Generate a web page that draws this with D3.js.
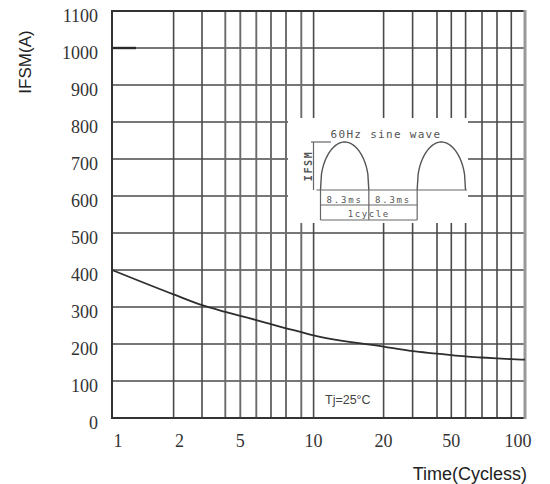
<!DOCTYPE html>
<html>
<head>
<meta charset="utf-8">
<script src="https://cdn.jsdelivr.net/npm/d3@7"></script>
<style>
  body { margin: 0; background: #fff; }
  svg { display: block; }
</style>
</head>
<body>
<div id="chart"></div>
<script>
// 1. Data

const cycles = [1, 2, 3, 4, 5, 6, 7, 8, 9, 10, 20, 30, 40, 50, 60, 70, 80, 90, 100]
const ifsm   = [400, 334, 305, 287, 276, 264.5, 253.5, 242.5, 232, 223.5, 193, 180.5, 174, 170, 166.5, 163.5, 161, 159, 157.5]
const xTickLabels = [1, 2, 5, 10, 20, 50, 100]
const yTickLabels = [0, 100, 200, 300, 400, 500, 600, 700, 800, 900, 1000, 1100]
const xGridValues = [1, 2, 3, 4, 5, 6, 7, 8, 9, 10, 20, 30, 40, 50, 60, 70, 80, 90, 100]

// 2. Dimensions

const dims = {
  width: 550,
  height: 484,
  left: 112,
  right: 525,
  top: 11,
  bottom: 418,
}
// the printed grid is only roughly logarithmic, so the scale follows the drawn lines
const xGridOffsets = [0, 61.6, 90, 113.3, 128.3, 144.3, 159, 174, 189.3, 201.6,
                      271.6, 300.6, 325, 339.3, 353.6, 370, 385, 399.3, 413]
// label nudges as printed on the sheet
const xLabelShift = { 1: 6, 2: 6, 100: -7 }

const svg = d3.select("#chart")
  .append("svg")
    .attr("width", dims.width)
    .attr("height", dims.height)

// 3. Scales

const x = d3.scaleLinear()
  .domain(xGridValues)
  .range(xGridOffsets.map(o => dims.left + o))

const y = d3.scaleLinear()
  .domain([0, 1100])
  .range([dims.bottom, dims.top])

// 4. Grid

const grid = svg.append("g")
  .attr("stroke", "#4a4a4a")
  .attr("stroke-width", 1.6)

grid.selectAll(".h")
  .data(yTickLabels.slice(1, -1))
  .join("line")
    .attr("x1", dims.left).attr("x2", dims.right)
    .attr("y1", d => y(d)).attr("y2", d => y(d))

grid.selectAll(".v")
  .data(xGridValues.slice(1, -1))
  .join("line")
    .attr("x1", d => x(d)).attr("x2", d => x(d))
    .attr("y1", dims.top).attr("y2", dims.bottom)
    .attr("stroke", d => (d >= 4 && d <= 9) ? "#6a6a6a" : "#4a4a4a")
    .attr("stroke-width", d => (d >= 4 && d <= 9) ? 1.9 : 1.6)

// darker stub on the 1000 line
svg.append("line")
  .attr("x1", x(1)).attr("x2", x(1) + 24)
  .attr("y1", y(1000)).attr("y2", y(1000))
  .attr("stroke", "#2a2a2a")
  .attr("stroke-width", 2.4)

// 5. Inset (60Hz sine wave sketch)

const inset = svg.append("g")
inset.append("rect")
  .attr("x", 288).attr("y", 118)
  .attr("width", 180).attr("height", 105)
  .attr("fill", "#fff")

const halfPeriod = 1000 / 120   // ms
const tScale = d3.scaleLinear().domain([0, 3 * halfPeriod]).range([320.5, 465.5])
const base = 190, amp = 48

const hump = t0 => d3.range(0, 1.0001, 0.02).map(f =>
  [tScale(t0 + f * halfPeriod), base - amp * Math.pow(Math.sin(Math.PI * f), 0.4)])

inset.selectAll(".hump")
  .data([0, 2 * halfPeriod])
  .join("path")
    .attr("d", t0 => d3.line()(hump(t0)))
    .attr("fill", "none")
    .attr("stroke", "#555")
    .attr("stroke-width", 1.4)

const insetLine = (x1, y1, x2, y2) => inset.append("line")
  .attr("x1", x1).attr("y1", y1).attr("x2", x2).attr("y2", y2)
  .attr("stroke", "#666").attr("stroke-width", 1.2)

insetLine(316.5, base, 467, base)
insetLine(313.5, base - amp, 313.5, base)
insetLine(311, base - amp, tScale(1.8), base - amp)
;[0, halfPeriod, 2 * halfPeriod].forEach(t => insetLine(tScale(t), base, tScale(t), 220))
insetLine(tScale(0), 205, tScale(2 * halfPeriod), 205)
insetLine(tScale(0), 220, tScale(2 * halfPeriod), 220)

const insetText = (tx, ty, str, size, spacing) => inset.append("text")
  .attr("x", tx).attr("y", ty)
  .attr("text-anchor", "middle")
  .style("font-family", "'DejaVu Sans Mono', monospace")
  .style("font-size", size + "px")
  .style("letter-spacing", spacing + "px")
  .attr("fill", "#555")
  .text(str)

insetText(386, 138, "60Hz sine wave", 11, 1.3)
insetText(tScale(halfPeriod / 2), 202.5, "8.3ms", 9, 1.8)
insetText(tScale(1.5 * halfPeriod), 202.5, "8.3ms", 9, 1.8)
insetText(tScale(halfPeriod), 216.5, "1cycle", 9, 1.6)
insetText(0, 0, "IFSM", 10, 1.6)
  .attr("transform", "translate(311.5,166) rotate(-90)")
  .style("font-weight", "bold")

// 6. Frame

svg.append("path")
  .attr("d", `M${dims.right},${dims.top}H${dims.left}V${dims.bottom}H${dims.right}`)
  .attr("fill", "none")
  .attr("stroke", "#333")
  .attr("stroke-width", 2)
svg.append("line")
  .attr("x1", dims.right).attr("x2", dims.right)
  .attr("y1", dims.top - 1).attr("y2", dims.bottom + 1)
  .attr("stroke", "#999")
  .attr("stroke-width", 3)

// 7. Curve

svg.append("path")
  .datum(cycles.map((c, i) => [c, ifsm[i]]))
  .attr("d", d3.line().x(d => x(d[0])).y(d => y(d[1])).curve(d3.curveMonotoneX))
  .attr("fill", "none")
  .attr("stroke", "#2e2e2e")
  .attr("stroke-width", 1.8)

svg.append("text")
  .attr("x", 325).attr("y", 404)
  .style("font-family", "'Liberation Sans', Arial, sans-serif")
  .style("font-size", "12.5px")
  .attr("fill", "#444")
  .text("Tj=25°C")

// 8. Axes labels

const serif = "'Liberation Serif', 'Times New Roman', serif"

svg.append("g").selectAll("text")
  .data(yTickLabels)
  .join("text")
    .attr("x", 98)
    .attr("y", d => y(d) + 11)
    .attr("text-anchor", "end")
    .style("font-family", serif)
    .style("font-size", "18px")
    .attr("fill", "#333")
    .text(d => d)

svg.append("g").selectAll("text")
  .data(xTickLabels)
  .join("text")
    .attr("x", d => x(d) + (xLabelShift[d] || 0))
    .attr("y", 447)
    .attr("text-anchor", "middle")
    .style("font-family", serif)
    .style("font-size", "18px")
    .attr("fill", "#333")
    .text(d => d)

svg.append("text")
  .attr("transform", "translate(25,62) rotate(-90)")
  .attr("text-anchor", "middle")
  .attr("dominant-baseline", "central")
  .style("font-family", "'Liberation Sans', Arial, sans-serif")
  .style("font-size", "17px")
  .attr("fill", "#222")
  .text("IFSM(A)")

svg.append("text")
  .attr("x", 527).attr("y", 480)
  .attr("text-anchor", "end")
  .style("font-family", "'Liberation Sans', Arial, sans-serif")
  .style("font-size", "18px")
  .attr("fill", "#222")
  .text("Time(Cycless)")
</script>
</body>
</html>
